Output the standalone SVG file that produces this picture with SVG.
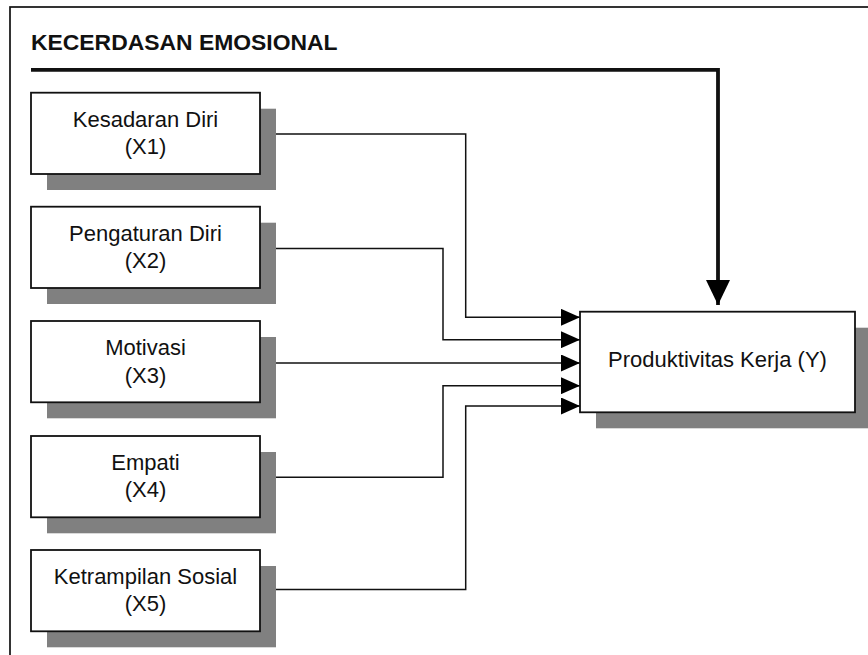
<svg xmlns="http://www.w3.org/2000/svg" width="868" height="655" viewBox="0 0 868 655">
  <style>
    .frame { fill: none; stroke: #111; stroke-width: 1.7; }
    .shadow { fill: #808080; stroke: none; }
    .box { fill: #fff; stroke: #111; stroke-width: 1.8; }
    .lbl { font-family: "Liberation Sans", Arial, sans-serif; font-size: 22px; fill: #111; text-anchor: middle; }
    .title { font-family: "Liberation Sans", Arial, sans-serif; font-size: 22.9px; font-weight: bold; fill: #111; }
    .conn { fill: none; stroke: #111; stroke-width: 1.5; marker-end: url(#arr); }
    .thick { fill: none; stroke: #111; stroke-width: 3.8; stroke-linejoin: miter; marker-end: url(#arrBig); }
  </style>
  <defs>
    <marker id="arr" markerUnits="userSpaceOnUse" markerWidth="19" markerHeight="17" refX="19" refY="8.5" orient="auto" viewBox="0 0 19 17">
      <path d="M0,0 L19,8.5 L0,17 Z" fill="#000"/>
    </marker>
    <marker id="arrBig" markerUnits="userSpaceOnUse" markerWidth="25" markerHeight="24" refX="25" refY="12" orient="auto" viewBox="0 0 25 24">
      <path d="M0,0 L25,12 L0,24 Z" fill="#000"/>
    </marker>
  </defs>

  <rect class="frame" x="10" y="7" width="900" height="700"/>
  <text class="title" x="31" y="49.5">KECERDASAN EMOSIONAL</text>

  <g id="connectors">
    <path class="thick" d="M31,69.8 H718 V305"/>
    <path class="conn" d="M260,134 H465.7 V317.3 H580"/>
    <path class="conn" d="M260,248.5 H443 V339.7 H580"/>
    <path class="conn" d="M260,363 H580"/>
    <path class="conn" d="M260,477.3 H443 V385.7 H580"/>
    <path class="conn" d="M260,589.5 H465.7 V406 H580"/>
  </g>

  <g id="x1">
    <rect class="shadow" x="47" y="108.7" width="229" height="81.3"/>
    <rect class="box" x="31" y="92.7" width="229" height="81.3"/>
    <text class="lbl" x="145.5" y="126.7">Kesadaran Diri</text>
    <text class="lbl" x="145.5" y="154.3">(X1)</text>
  </g>
  <g id="x2">
    <rect class="shadow" x="47" y="222.7" width="229" height="81.3"/>
    <rect class="box" x="31" y="206.7" width="229" height="81.3"/>
    <text class="lbl" x="145.5" y="240.8">Pengaturan Diri</text>
    <text class="lbl" x="145.5" y="268.3">(X2)</text>
  </g>
  <g id="x3">
    <rect class="shadow" x="47" y="337" width="229" height="81.3"/>
    <rect class="box" x="31" y="321" width="229" height="81.3"/>
    <text class="lbl" x="145.5" y="355">Motivasi</text>
    <text class="lbl" x="145.5" y="382.6">(X3)</text>
  </g>
  <g id="x4">
    <rect class="shadow" x="47" y="452" width="229" height="81.3"/>
    <rect class="box" x="31" y="436" width="229" height="81.3"/>
    <text class="lbl" x="145.5" y="469.8">Empati</text>
    <text class="lbl" x="145.5" y="497.3">(X4)</text>
  </g>
  <g id="x5">
    <rect class="shadow" x="47" y="566" width="229" height="81.3"/>
    <rect class="box" x="31" y="550" width="229" height="81.3"/>
    <text class="lbl" x="145.5" y="583.8">Ketrampilan Sosial</text>
    <text class="lbl" x="145.5" y="611.3">(X5)</text>
  </g>
  <g id="y">
    <rect class="shadow" x="596" y="327.7" width="275" height="100.6"/>
    <rect class="box" x="580" y="311.7" width="275" height="100.6"/>
    <text class="lbl" x="717.5" y="366.7">Produktivitas Kerja (Y)</text>
  </g>
</svg>
